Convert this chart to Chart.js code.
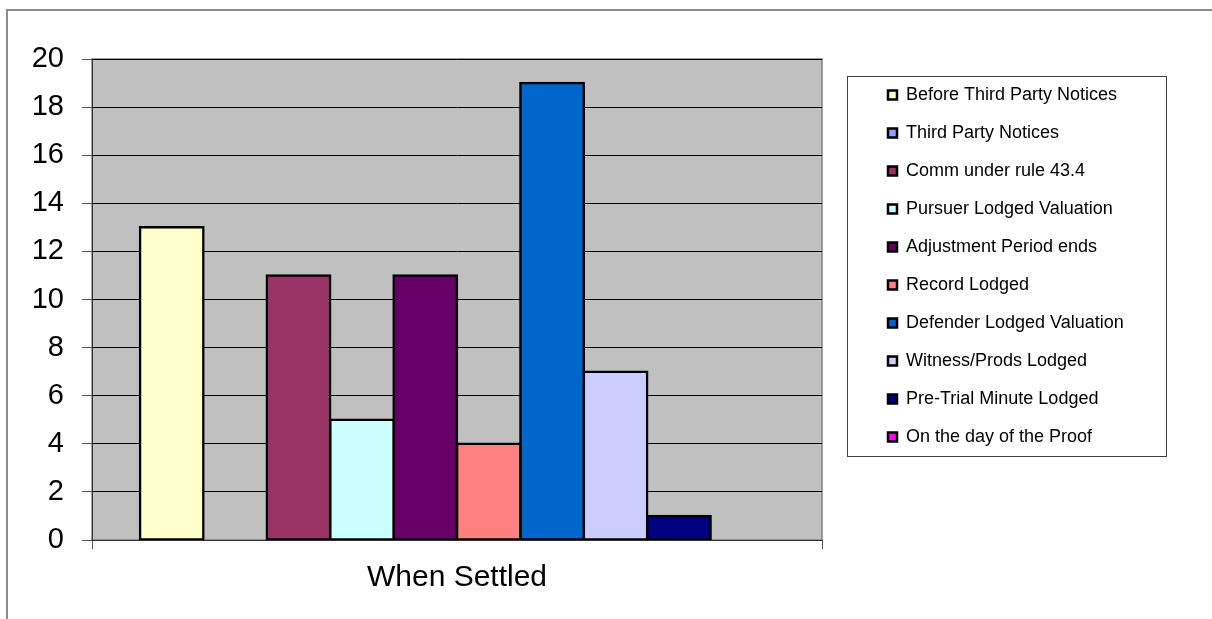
<!DOCTYPE html>
<html>
<head>
<meta charset="utf-8">
<title>When Settled</title>
<script src="https://cdn.jsdelivr.net/npm/chart.js@4.4.1/dist/chart.umd.min.js"></script>
<style>
  html, body { margin: 0; padding: 0; background: #fff; overflow: hidden; }
  #frame { position: absolute; left: 6px; top: 9px; width: 1400px; height: 800px;
           border: 2px solid #8c8c8c; box-sizing: border-box; }
  #wrap { position: absolute; left: 0; top: 0; width: 1212px; height: 619px; }
</style>
</head>
<body>
<div id="frame"></div>
<div id="wrap"><canvas id="chart" width="1212" height="619"></canvas></div>
<script>
// ---- data ----
const categories = ['When Settled'];

const seriesNames = [
  'Before Third Party Notices',
  'Third Party Notices',
  'Comm under rule 43.4',
  'Pursuer Lodged Valuation',
  'Adjustment Period ends',
  'Record Lodged',
  'Defender Lodged Valuation',
  'Witness/Prods Lodged',
  'Pre-Trial Minute Lodged',
  'On the day of the Proof'
];

const seriesValues = [13, 0, 11, 5, 11, 4, 19, 7, 1, 0];

const yTickValues = [0, 2, 4, 6, 8, 10, 12, 14, 16, 18, 20];

// ---- styling ----
const seriesColors = [
  '#FFFFCC', '#9999FF', '#993366', '#CCFFFF', '#660066',
  '#FF8080', '#0066CC', '#CCCCFF', '#000080', '#FF00FF'
];
const FONT = 'Arial, "Liberation Sans", Helvetica, sans-serif';

// outline drawn around the key
const keyFrame = { x: 847, y: 76, w: 319, h: 380 };

const datasets = seriesNames.map((name, i) => ({
  label: name,
  data: [seriesValues[i]],
  backgroundColor: seriesColors[i],
  borderColor: '#000000',
  borderWidth: 2.5,
  borderSkipped: false,
  inflateAmount: ctx => (ctx.raw ? 1.25 : 0),
  categoryPercentage: 0.8685,
  barPercentage: 1
}));

// grey plot-area panel behind the grid and bars
const plotPanel = {
  id: 'plotPanel',
  beforeDraw(chart) {
    const { ctx, chartArea: a } = chart;
    ctx.save();
    ctx.fillStyle = '#C0C0C0';
    ctx.fillRect(a.left, a.top, a.right - a.left, a.bottom - a.top);
    ctx.strokeStyle = '#808080';
    ctx.lineWidth = 1.5;
    ctx.strokeRect(a.left, a.top, a.right - a.left, a.bottom - a.top);
    ctx.restore();
  }
};

// legend: reserve a fixed column on the right, then place the boxed key in it
const legendBox = {
  id: 'legendBox',
  afterInit(chart) {
    const lg = chart.legend;
    const fit = lg.fit;
    lg.fit = function () { fit.call(this); this.width = 390; };
  },
  afterLayout(chart) {
    const lg = chart.legend;
    lg.left = keyFrame.x + 21;
    lg.right = keyFrame.x + keyFrame.w;
    lg.top = keyFrame.y - 16;
    lg.bottom = keyFrame.y + keyFrame.h + 16;
    lg.width = lg.right - lg.left;
    lg.height = lg.bottom - lg.top;
  },
  afterDraw(chart) {
    const { ctx } = chart;
    ctx.save();
    ctx.strokeStyle = '#404040';
    ctx.lineWidth = 1;
    ctx.strokeRect(keyFrame.x + 0.5, keyFrame.y + 0.5, keyFrame.w, keyFrame.h);
    ctx.restore();
  }
};

new Chart(document.getElementById('chart'), {
  type: 'bar',
  data: { labels: categories, datasets },
  plugins: [plotPanel, legendBox],
  options: {
    responsive: false,
    animation: false,
    events: [],
    layout: { padding: { left: 0, top: 59, right: 0, bottom: 0 } },
    plugins: {
      tooltip: { enabled: false },
      title: { display: false },
      legend: {
        position: 'right',
        align: 'center',
        labels: {
          boxWidth: 9,
          boxHeight: 9,
          padding: 20,
          color: '#000000',
          font: { family: FONT, size: 18 },
          generateLabels(chart) {
            const items = Chart.defaults.plugins.legend.labels.generateLabels(chart);
            items.forEach(it => { it.lineWidth = 2.5; it.strokeStyle = '#000000'; });
            return items;
          }
        }
      }
    },
    scales: {
      x: {
        offset: true,
        grid: {
          offset: true,
          drawOnChartArea: false,
          drawTicks: true,
          tickLength: 9,
          tickColor: '#555555',
          color: '#555555'
        },
        border: { color: '#333333', width: 1 },
        ticks: { color: '#000000', padding: 11, font: { family: FONT, size: 30 } },
        afterFit(scale) { scale.height = 79; }
      },
      y: {
        min: 0,
        max: 20,
        afterBuildTicks(scale) { scale.ticks = yTickValues.map(v => ({ value: v })); },
        grid: { color: '#000000', lineWidth: 1, tickColor: '#555555', tickLength: 10 },
        border: { color: '#333333', width: 1 },
        ticks: { color: '#000000', padding: 18, font: { family: FONT, size: 29 } },
        afterFit(scale) { scale.width = 92; }
      }
    }
  }
});
</script>
</body>
</html>
